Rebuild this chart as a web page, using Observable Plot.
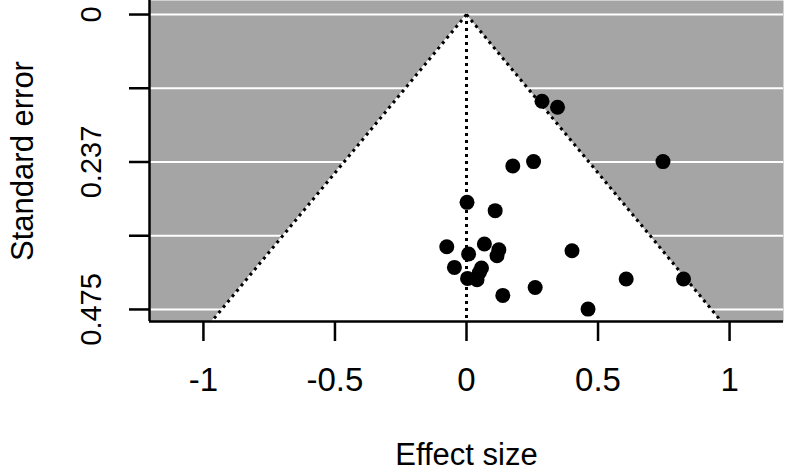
<!DOCTYPE html>
<html><head><meta charset="utf-8">
<script src="https://cdn.jsdelivr.net/npm/d3@7"></script>
<script src="https://cdn.jsdelivr.net/npm/@observablehq/plot@0.6"></script>
<style>body{margin:0;background:#fff} svg{display:block}</style>
</head><body><div id="chart"></div>
<script>
// Study data
const effect = [0.287, 0.346, 0.176, 0.255, 0.747, 0.002, 0.109, -0.075, 0.068, 0.123, 0.116, 0.008, -0.046, 0.057, 0.049, 0.040, 0.004, 0.138, 0.261, 0.401, 0.607, 0.825, 0.462];
const se     = [0.1397, 0.1494, 0.2439, 0.2369, 0.2369, 0.3025, 0.3159, 0.3740, 0.3696, 0.3788, 0.3885, 0.3857, 0.4073, 0.4083, 0.4154, 0.4271, 0.4250, 0.4524, 0.4396, 0.3804, 0.4260, 0.4260, 0.4744];
const xTicks = [-1, -0.5, 0, 0.5, 1];
const seTicks = [0, 0.11875, 0.2375, 0.35625, 0.475];
const seTickLabels = ["0", "", "0.237", "", "0.475"];
const xTitle = "Effect size";
const yTitle = "Standard error";
const xDomain = [-1.205, 1.205];
const seDomain = [-0.0226, 0.4944];
const zCrit = 1.96;

const points = effect.map((e, i) => ({effect: e, se: se[i]}));
const seMax = seDomain[1];
const funnel = [{se: 0, lo: 0, hi: 0}, {se: seMax, lo: -zCrit * seMax, hi: zCrit * seMax}];
const seLabel = new Map(seTicks.map((t, i) => [t, seTickLabels[i]]));
const dotted = {stroke: "black", strokeWidth: 3, strokeDasharray: "3,4", strokeLinecap: "butt"};

const chart = Plot.plot({
  width: 786, height: 471,
  marginLeft: 149, marginRight: 3, marginTop: 0, marginBottom: 150,
  x: {domain: xDomain},
  y: {domain: seDomain, reverse: true},
  style: {fontFamily: "'Liberation Sans', Arial, sans-serif", color: "black", background: "white"},
  marks: [
    Plot.frame({fill: "#a5a5a5", stroke: null}),
    Plot.ruleY(seTicks, {stroke: "white", strokeWidth: 2}),
    Plot.areaX(funnel, {y: "se", x1: "lo", x2: "hi", fill: "white"}),
    Plot.line(funnel, {x: "lo", y: "se", ...dotted}),
    Plot.line(funnel, {x: "hi", y: "se", ...dotted}),
    Plot.ruleX([0], {y1: 0, y2: seMax, ...dotted}),
    Plot.dot(points, {x: "effect", y: "se", r: 7.5, fill: "black", stroke: null}),
    Plot.ruleX([xDomain[0]], {stroke: "black", strokeWidth: 2.5}),
    Plot.ruleY([seDomain[1]], {stroke: "black", strokeWidth: 2.5}),
    Plot.axisX(xTicks, {tickSize: 20, tickPadding: 26, fontSize: 33, tickFormat: d => String(d), label: null}),
    Plot.axisY(seTicks, {tickSize: 20, tickPadding: 29, tickRotate: -90, fontSize: 29, tickFormat: d => seLabel.get(d), label: null}),
    Plot.text([xTitle], {frameAnchor: "bottom", dy: 143, lineAnchor: "bottom", fontSize: 31}),
    Plot.text([yTitle], {frameAnchor: "left", dx: -117, rotate: -90, lineAnchor: "bottom", textAnchor: "middle", fontSize: 31})
  ]
});
chart.querySelectorAll('[aria-label="x-axis tick"], [aria-label="y-axis tick"]').forEach(g => {
  g.setAttribute("stroke-width", "2.5");
  g.querySelectorAll("path").forEach(p => p.setAttribute("stroke-width", "2.5"));
});
document.getElementById("chart").appendChild(chart);
</script>
</body></html>
